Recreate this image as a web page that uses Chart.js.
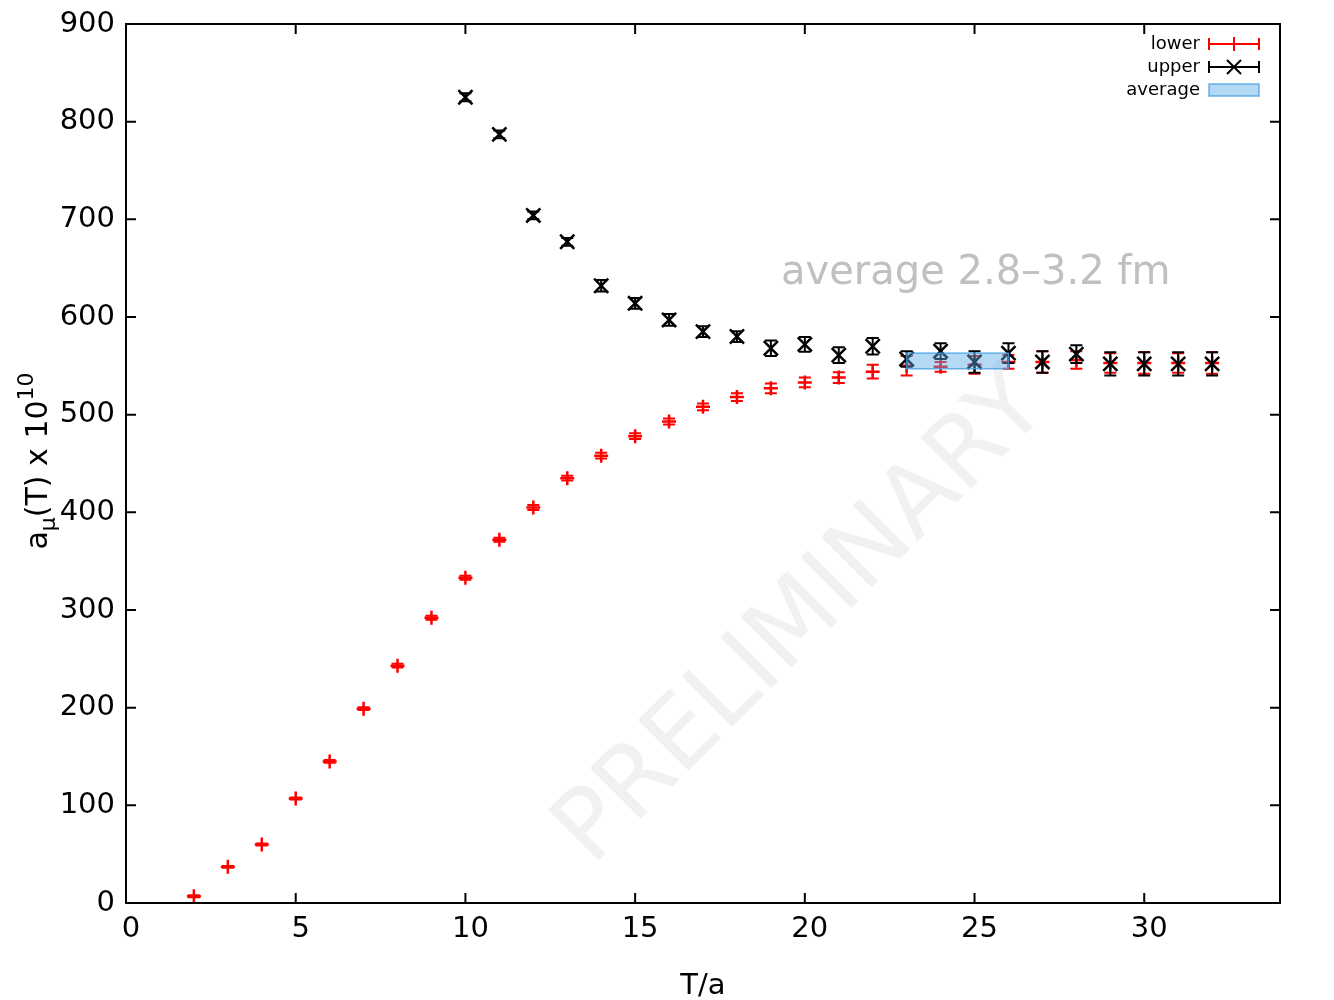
<!DOCTYPE html>
<html>
<head>
<meta charset="utf-8">
<script src="https://cdn.jsdelivr.net/npm/chart.js@4"></script>
<style>
html, body { margin: 0; padding: 0; background: #fff; }
#wrap { width: 1334px; height: 1000px; }
</style>
</head>
<body>
<div id="wrap"><canvas id="chart"></canvas></div>
<script>
// ---- data ----
const tLower = [2, 3, 4, 5, 6, 7, 8, 9, 10, 11, 12, 13, 14, 15, 16, 17, 18, 19, 20, 21, 22, 23, 24, 25, 26, 27, 28, 29, 30, 31, 32];
const lower = [7, 37, 60, 107, 145, 199, 243, 292, 333, 372, 405, 435, 458, 478, 493, 508, 518, 527, 533, 538, 544, 550, 549, 551, 554, 554, 556, 553, 553, 553, 553];
const lowerErr = [1, 1, 1, 1, 1.5, 1.5, 2, 2, 2, 2, 2.5, 2.5, 3, 3, 3, 3.5, 4, 5, 5, 5.5, 7, 10, 5, 9, 7, 11, 9, 10, 11, 10, 11];

const tUpper = [10, 11, 12, 13, 14, 15, 16, 17, 18, 19, 20, 21, 22, 23, 24, 25, 26, 27, 28, 29, 30, 31, 32];
const upper = [825, 787, 704, 677, 632, 614, 597, 585, 580, 568, 572, 561, 570, 557, 565, 554, 563, 554, 562, 552, 552, 552, 552];
const upperErr = [4, 4, 4, 4, 6, 5.5, 6, 5.5, 5.5, 8, 7.5, 8, 8.5, 8, 8, 11, 10, 11, 9, 12, 12, 12, 12];

const avgRange = [23, 26];
const avgValue = 555;
const avgErr = 8;

const seriesNames = ["lower", "upper", "average"];

Chart.defaults.font.family = "'DejaVu Sans', sans-serif";
Chart.defaults.color = "#000";

// error bars, drawn right after each dataset
const errorBars = {
    id: "errorBars",
    afterDatasetDraw(chart, args) {
        const ds = chart.data.datasets[args.index];
        if (!ds.err) return;
        const ctx = chart.ctx;
        const x = chart.scales.x, y = chart.scales.y;
        ctx.save();
        ctx.strokeStyle = ds.borderColor;
        ctx.lineWidth = 2;
        ds.data.forEach((p, i) => {
            const px = x.getPixelForValue(p.x);
            const y1 = y.getPixelForValue(p.y - ds.err[i]);
            const y2 = y.getPixelForValue(p.y + ds.err[i]);
            ctx.beginPath();
            ctx.moveTo(px, y1); ctx.lineTo(px, y2);
            ctx.moveTo(px - 6, y1); ctx.lineTo(px + 6, y1);
            ctx.moveTo(px - 6, y2); ctx.lineTo(px + 6, y2);
            ctx.stroke();
        });
        ctx.restore();
    }
};

// watermark behind, band + frame + legend + labels on top
const decorations = {
    id: "decorations",
    beforeDatasetsDraw(chart) {
        const ctx = chart.ctx;
        ctx.save();
        ctx.translate(803, 620);
        ctx.rotate(-Math.PI / 4);
        ctx.fillStyle = "#f1f1f1";
        ctx.font = "98px 'DejaVu Sans'";
        ctx.textAlign = "center";
        ctx.textBaseline = "middle";
        ctx.fillText("PRELIMINARY", 0, 0);
        ctx.restore();
    },
    afterDatasetsDraw(chart) {
        const ctx = chart.ctx;
        const x = chart.scales.x, y = chart.scales.y;
        // average band
        const bx1 = x.getPixelForValue(avgRange[0]);
        const bx2 = x.getPixelForValue(avgRange[1]);
        const by1 = y.getPixelForValue(avgValue + avgErr);
        const by2 = y.getPixelForValue(avgValue - avgErr);
        ctx.save();
        ctx.fillStyle = "rgba(86,170,230,0.45)";
        ctx.fillRect(bx1, by1, bx2 - bx1, by2 - by1);
        ctx.strokeStyle = "rgba(70,160,225,0.8)";
        ctx.lineWidth = 1.5;
        ctx.strokeRect(bx1, by1, bx2 - bx1, by2 - by1);
        ctx.restore();
    },
    afterDraw(chart) {
        const ctx = chart.ctx;
        const a = chart.chartArea;
        const x = chart.scales.x, y = chart.scales.y;
        ctx.save();
        // frame
        ctx.strokeStyle = "#000";
        ctx.lineWidth = 2;
        ctx.strokeRect(a.left, a.top, a.right - a.left, a.bottom - a.top);
        // inward ticks on all four sides
        ctx.beginPath();
        x.ticks.forEach(t => {
            const px = x.getPixelForValue(t.value);
            ctx.moveTo(px, a.bottom); ctx.lineTo(px, a.bottom - 10);
            ctx.moveTo(px, a.top); ctx.lineTo(px, a.top + 10);
        });
        y.ticks.forEach(t => {
            const py = y.getPixelForValue(t.value);
            ctx.moveTo(a.left, py); ctx.lineTo(a.left + 10, py);
            ctx.moveTo(a.right, py); ctx.lineTo(a.right - 10, py);
        });
        ctx.stroke();

        // annotation
        ctx.fillStyle = "#c0c0c0";
        ctx.font = "40px 'DejaVu Sans'";
        ctx.textAlign = "left";
        ctx.textBaseline = "alphabetic";
        ctx.fillText("average 2.8\u20133.2 fm", 781, 284);

        // legend
        ctx.font = "18px 'DejaVu Sans'";
        ctx.textAlign = "right";
        ctx.textBaseline = "middle";
        ctx.fillStyle = "#000";
        const rows = [44, 67, 90];
        const sx1 = 1209, sx2 = 1259, sm = 1234;
        ctx.fillText(seriesNames[0], 1200, rows[0]);
        ctx.fillText(seriesNames[1], 1200, rows[1]);
        ctx.fillText(seriesNames[2], 1200, rows[2]);
        const drawSample = (row, color, cross) => {
            ctx.strokeStyle = color;
            ctx.lineWidth = 2;
            ctx.beginPath();
            ctx.moveTo(sx1, row); ctx.lineTo(sx2, row);
            ctx.moveTo(sx1, row - 6); ctx.lineTo(sx1, row + 6);
            ctx.moveTo(sx2, row - 6); ctx.lineTo(sx2, row + 6);
            if (cross) {
                ctx.moveTo(sm - 7, row - 7); ctx.lineTo(sm + 7, row + 7);
                ctx.moveTo(sm - 7, row + 7); ctx.lineTo(sm + 7, row - 7);
            } else {
                ctx.moveTo(sm, row - 7); ctx.lineTo(sm, row + 7);
            }
            ctx.stroke();
        };
        drawSample(rows[0], "#ff0000", false);
        drawSample(rows[1], "#000000", true);
        ctx.fillStyle = "rgba(86,170,230,0.45)";
        ctx.fillRect(sx1, rows[2] - 6, sx2 - sx1, 12);
        ctx.strokeStyle = "rgba(70,160,225,0.8)";
        ctx.lineWidth = 1.5;
        ctx.strokeRect(sx1, rows[2] - 6, sx2 - sx1, 12);

        // y axis title with sub/superscript
        ctx.translate(47, 461);
        ctx.rotate(-Math.PI / 2);
        ctx.fillStyle = "#000";
        ctx.textAlign = "left";
        ctx.textBaseline = "alphabetic";
        const big = "30px 'DejaVu Sans'", small = "22px 'DejaVu Sans'";
        const parts = [["a", big, 0], ["\u03bc", small, 8], ["(T) x 10", big, 0], ["10", small, -14]];
        let total = 0;
        parts.forEach(p => { ctx.font = p[1]; total += ctx.measureText(p[0]).width; });
        let cx = -total / 2;
        parts.forEach(p => {
            ctx.font = p[1];
            ctx.fillText(p[0], cx, p[2]);
            cx += ctx.measureText(p[0]).width;
        });
        ctx.restore();
    }
};

const ctx = document.getElementById("chart").getContext("2d");

const chart = new Chart(ctx, {
    type: "scatter",
    data: {
        datasets: [
            {
                label: seriesNames[0],
                data: tLower.map((t, i) => ({ x: t, y: lower[i] })),
                err: lowerErr,
                borderColor: "#ff0000",
                backgroundColor: "#ff0000",
                pointStyle: "cross",
                pointRadius: 7,
                borderWidth: 2.5,
                order: 2
            },
            {
                label: seriesNames[1],
                data: tUpper.map((t, i) => ({ x: t, y: upper[i] })),
                err: upperErr,
                borderColor: "#000000",
                backgroundColor: "#000000",
                pointStyle: "crossRot",
                pointRadius: 10,
                borderWidth: 2.5,
                order: 1
            }
        ]
    },
    options: {
        responsive: true,
        maintainAspectRatio: false,
        animation: false,
        layout: { padding: { top: 24, right: 54, left: 0, bottom: 0 } },
        plugins: {
            legend: { display: false },
            tooltip: { enabled: false }
        },
        scales: {
            x: {
                type: "linear",
                min: 0,
                max: 34,
                grid: { display: false, drawTicks: false },
                border: { display: false },
                ticks: { stepSize: 5, includeBounds: false, font: { size: 29 }, padding: 9, maxRotation: 0, labelOffset: 5 },
                title: { display: true, text: "T/a", font: { size: 29 }, padding: { top: 0, bottom: -4 } },
                afterFit(scale) {
                    scale.height = 97;
                    scale.paddingLeft = 0;
                    scale.paddingRight = 0;
                }
            },
            y: {
                min: 0,
                max: 900,
                grid: { display: false, drawTicks: false },
                border: { display: false },
                ticks: { stepSize: 100, font: { size: 29 }, padding: 11 },
                afterFit(scale) {
                    scale.width = 126;
                    scale.paddingTop = 0;
                    scale.paddingBottom = 0;
                }
            }
        }
    },
    plugins: [errorBars, decorations]
});
</script>
</body>
</html>
